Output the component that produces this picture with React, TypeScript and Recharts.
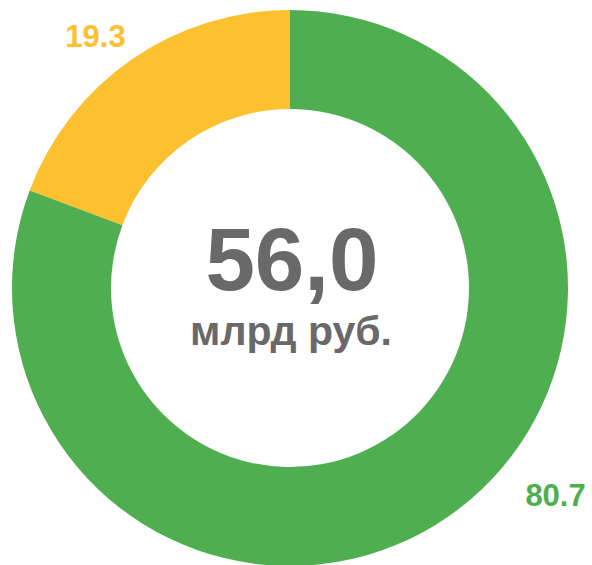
import { PieChart, Pie, Cell, Label } from "recharts"

const shares = ["Прочее", "Основное"]
const values = [19.3, 80.7]
const colors = ["#FDC02F", "#4FAF50"]
const totalText = "56,0"
const unitText = "млрд руб."

const data = shares.map((name, i) => ({ name, value: values[i] }))

const CX = 290
const CY = 288

// label placement around the ring (degrees, distance from centre)
const labelAngles = [127.7, 322]
const labelRadius = [318, 337]

const RAD = Math.PI / 180

function renderLabel(props: any) {
  const { cx, cy, index, value } = props
  const a = labelAngles[index] * RAD
  const x = cx + labelRadius[index] * Math.cos(a)
  const y = cy - labelRadius[index] * Math.sin(a)
  return (
    <text
      x={x}
      y={y}
      fill={colors[index]}
      textAnchor="middle"
      dominantBaseline="central"
      fontFamily="Liberation Sans, Arial, sans-serif"
      fontWeight="bold"
      fontSize={31}
    >
      {value.toFixed(1)}
    </text>
  )
}

function CenterText() {
  return (
    <g fontFamily="Liberation Sans, Arial, sans-serif" fontWeight="bold" fill="#696969" textAnchor="middle">
      <text x={CX + 2} y={CY + 2} fontSize={89}>
        {totalText}
      </text>
      <text x={CX + 1} y={CY + 57} fontSize={41}>
        {unitText}
      </text>
    </g>
  )
}

export default function App() {
  return (
    <div style={{ position: "absolute", left: 0, top: 0, width: 592, height: 565, background: "#fff" }}>
      <PieChart width={592} height={565} margin={{ top: 0, right: 0, bottom: 0, left: 0 }}>
        <Pie
          data={data}
          dataKey="value"
          cx={CX}
          cy={CY}
          innerRadius={179}
          outerRadius={278}
          startAngle={90}
          endAngle={450}
          stroke="none"
          label={renderLabel}
          labelLine={false}
          isAnimationActive={false}
        >
          {data.map((d, i) => (
            <Cell key={d.name} fill={colors[i]} />
          ))}
          <Label position="center" content={CenterText} />
        </Pie>
      </PieChart>
    </div>
  )
}
